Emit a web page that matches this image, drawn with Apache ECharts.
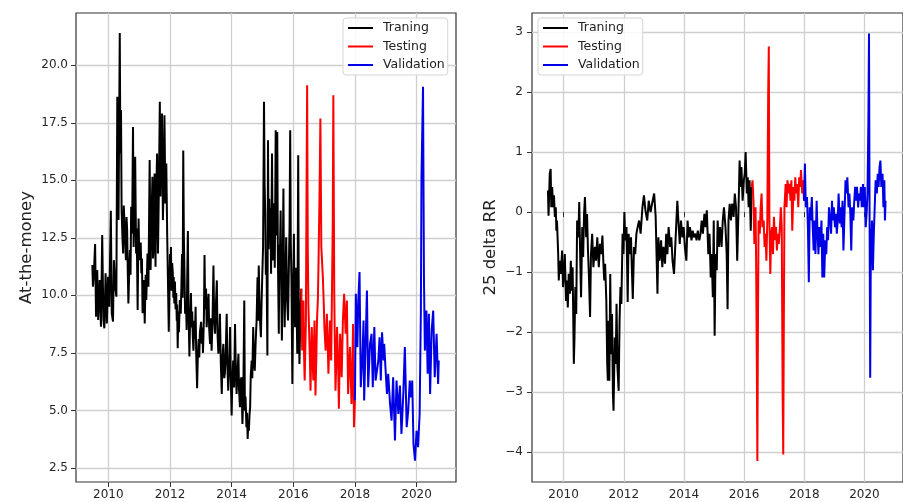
<!DOCTYPE html>
<html>
<head>
<meta charset="utf-8">
<title>ATM and 25 delta RR</title>
<script src="https://cdn.jsdelivr.net/npm/echarts@6/dist/echarts.min.js"></script>
<style>
  html, body { margin: 0; padding: 0; background: #fff; }
  #main { width: 903px; height: 502px; }
</style>
</head>
<body>
<div id="main"></div>
<script>
// tick positions
var yearTicks = [2010, 2012, 2014, 2016, 2018, 2020];
var atmTicks = [2.5, 5, 7.5, 10, 12.5, 15, 17.5, 20];
var rrTicks = [-4, -3, -2, -1, 0, 1, 2, 3];

// At-the-money, [year, value]
var atmTrain = [[2009.48,11.32],[2009.50,10.38],[2009.53,10.96],[2009.57,12.23],[2009.60,9.07],[2009.64,11.10],[2009.67,8.93],[2009.72,10.67],[2009.76,8.64],[2009.80,12.62],[2009.84,8.93],[2009.87,8.57],[2009.91,10.96],[2009.95,8.78],[2009.99,10.81],[2010.03,9.51],[2010.08,13.68],[2010.11,9.22],[2010.15,8.86],[2010.18,11.53],[2010.22,10.38],[2010.26,9.94],[2010.29,18.63],[2010.33,13.27],[2010.37,21.40],[2010.39,16.16],[2010.41,18.05],[2010.43,13.70],[2010.46,12.4],[2010.48,11.82],[2010.50,13.9],[2010.52,13.27],[2010.55,12.2],[2010.57,11.53],[2010.59,13.4],[2010.61,12.84],[2010.63,11.0],[2010.65,9.65],[2010.68,11.2],[2010.70,11.97],[2010.72,10.9],[2010.74,13.85],[2010.77,12.69],[2010.80,17.32],[2010.82,12.1],[2010.84,13.27],[2010.87,16.02],[2010.90,11.82],[2010.92,12.9],[2010.95,9.36],[2010.98,13.34],[2011.00,11.9],[2011.02,11.53],[2011.05,12.3],[2011.07,10.96],[2011.09,11.6],[2011.11,9.22],[2011.15,10.67],[2011.18,8.78],[2011.21,10.9],[2011.23,9.80],[2011.27,11.82],[2011.30,10.38],[2011.34,15.88],[2011.37,11.10],[2011.40,13.27],[2011.43,15.15],[2011.45,11.6],[2011.47,12.11],[2011.50,15.30],[2011.53,11.24],[2011.55,14.1],[2011.58,16.16],[2011.61,11.82],[2011.64,14.72],[2011.67,18.41],[2011.69,14.3],[2011.71,15.88],[2011.74,17.90],[2011.77,13.27],[2011.80,15.2],[2011.82,17.83],[2011.85,13.99],[2011.88,15.73],[2011.91,12.55],[2011.93,10.9],[2011.96,8.42],[2012.00,11.8],[2012.02,10.4],[2012.03,12.1],[2012.05,10.2],[2012.07,11.4],[2012.09,11.0],[2012.11,9.9],[2012.12,10.8],[2012.14,9.65],[2012.16,10.6],[2012.18,9.4],[2012.20,10.1],[2012.22,8.9],[2012.23,9.6],[2012.25,7.7],[2012.27,9.3],[2012.29,8.4],[2012.30,8.9],[2012.32,9.8],[2012.35,9.2],[2012.37,10.4],[2012.39,11.8],[2012.41,9.9],[2012.43,16.3],[2012.45,12.5],[2012.47,11.0],[2012.49,9.2],[2012.52,9.65],[2012.54,8.5],[2012.56,10.9],[2012.58,12.8],[2012.60,9.4],[2012.63,7.34],[2012.65,8.8],[2012.68,10.1],[2012.70,8.6],[2012.72,9.3],[2012.74,8.2],[2012.76,7.6],[2012.79,8.9],[2012.81,8.1],[2012.83,9.5],[2012.85,7.5],[2012.88,5.96],[2012.90,7.2],[2012.93,8.1],[2012.95,7.3],[2012.97,8.4],[2013.01,8.85],[2013.03,7.9],[2013.05,8.6],[2013.07,7.5],[2013.10,9.0],[2013.12,11.75],[2013.14,9.4],[2013.17,10.3],[2013.19,8.62],[2013.22,9.4],[2013.25,10.07],[2013.27,8.6],[2013.30,7.89],[2013.32,9.0],[2013.35,7.6],[2013.38,8.9],[2013.41,11.3],[2013.43,9.2],[2013.46,8.33],[2013.49,9.6],[2013.52,10.65],[2013.54,8.4],[2013.57,7.46],[2013.60,8.3],[2013.62,9.2],[2013.65,7.0],[2013.68,5.72],[2013.70,7.1],[2013.73,7.89],[2013.76,6.4],[2013.78,6.59],[2013.81,7.6],[2013.84,9.2],[2013.86,7.0],[2013.89,5.86],[2013.92,7.0],[2013.95,8.62],[2013.97,6.6],[2014.00,4.78],[2014.02,6.2],[2014.05,7.17],[2014.08,6.0],[2014.11,8.76],[2014.13,7.2],[2014.16,5.72],[2014.19,6.6],[2014.22,7.46],[2014.24,5.9],[2014.27,5.14],[2014.29,6.3],[2014.32,6.44],[2014.35,4.41],[2014.38,5.8],[2014.41,9.78],[2014.43,4.99],[2014.45,5.6],[2014.48,4.27],[2014.50,4.9],[2014.52,3.76],[2014.54,4.5],[2014.56,4.12],[2014.58,4.8],[2014.60,5.14],[2014.62,6.5],[2014.65,7.17],[2014.67,6.4],[2014.70,8.62],[2014.72,7.2],[2014.75,6.73],[2014.78,8.0],[2014.81,8.91],[2014.84,10.79],[2014.86,8.9],[2014.88,11.3],[2014.91,9.2],[2014.95,8.18],[2014.97,9.6],[2014.99,10.65],[2015.02,12.1],[2015.05,18.41],[2015.07,14.8],[2015.09,13.69],[2015.11,10.9],[2015.13,11.81],[2015.16,7.39],[2015.18,16.74],[2015.20,12.0],[2015.22,14.2],[2015.24,12.53],[2015.26,13.8],[2015.28,10.94],[2015.31,16.16],[2015.33,12.4],[2015.34,11.52],[2015.36,14.0],[2015.38,13.26],[2015.40,11.2],[2015.43,17.17],[2015.45,12.6],[2015.48,17.1],[2015.50,11.8],[2015.53,8.33],[2015.55,12.2],[2015.56,11.23],[2015.59,13.69],[2015.61,10.4],[2015.63,8.04],[2015.66,11.5],[2015.68,14.64],[2015.70,10.6],[2015.72,8.62],[2015.75,11.0],[2015.77,12.53],[2015.80,9.8],[2015.83,8.91],[2015.86,11.52],[2015.88,13.0],[2015.90,17.17],[2015.92,12.2],[2015.94,10.79],[2015.97,6.15],[2016.00,10.4],[2016.02,12.68],[2016.04,9.6],[2016.06,8.62],[2016.08,11.2],[2016.10,10.07],[2016.13,7.46],[2016.16,16.09],[2016.18,9.4],[2016.20,7.02],[2016.23,9.1],[2016.26,10.29]];
var atmTest = [[2016.26,10.29],[2016.29,7.60],[2016.31,8.9],[2016.33,9.78],[2016.35,7.4],[2016.37,6.30],[2016.41,8.91],[2016.43,14.42],[2016.45,19.13],[2016.47,12.10],[2016.49,9.6],[2016.51,8.62],[2016.54,7.2],[2016.56,5.86],[2016.58,7.4],[2016.60,8.62],[2016.62,7.5],[2016.65,6.30],[2016.67,7.8],[2016.69,8.91],[2016.72,5.65],[2016.75,7.4],[2016.77,8.91],[2016.80,9.9],[2016.82,11.52],[2016.85,14.13],[2016.88,17.68],[2016.91,12.10],[2016.94,11.3],[2016.96,10.79],[2016.99,9.6],[2017.01,8.62],[2017.05,7.60],[2017.09,9.20],[2017.12,7.8],[2017.14,6.59],[2017.17,7.9],[2017.19,8.91],[2017.23,7.17],[2017.28,12.97],[2017.30,18.70],[2017.33,10.07],[2017.35,7.8],[2017.37,5.86],[2017.40,7.3],[2017.42,8.62],[2017.46,6.73],[2017.48,5.07],[2017.50,6.8],[2017.52,8.33],[2017.55,7.4],[2017.57,6.44],[2017.61,8.91],[2017.65,10.07],[2017.70,8.33],[2017.74,9.78],[2017.76,7.6],[2017.78,5.72],[2017.81,6.9],[2017.84,7.75],[2017.89,5.28],[2017.92,7.1],[2017.94,8.76],[2017.97,4.27],[2018.00,5.43]];
var atmValid = [[2018.00,5.43],[2018.03,10.07],[2018.08,7.75],[2018.11,9.78],[2018.15,11.01],[2018.19,6.01],[2018.24,7.17],[2018.28,8.91],[2018.30,5.43],[2018.35,8.04],[2018.39,10.21],[2018.43,6.01],[2018.49,7.89],[2018.54,8.33],[2018.58,6.01],[2018.63,8.62],[2018.67,6.30],[2018.76,7.17],[2018.80,8.18],[2018.84,6.30],[2018.88,8.40],[2018.93,7.17],[2018.95,7.89],[2018.99,6.88],[2019.04,5.72],[2019.08,6.59],[2019.14,5.28],[2019.19,4.56],[2019.24,6.44],[2019.30,3.69],[2019.35,6.30],[2019.41,4.85],[2019.46,6.08],[2019.51,3.98],[2019.57,5.72],[2019.62,7.75],[2019.68,4.27],[2019.73,4.99],[2019.78,6.30],[2019.82,5.57],[2019.86,6.30],[2019.90,3.54],[2019.95,2.82],[2020.00,4.12],[2020.05,3.40],[2020.10,4.85],[2020.14,9.34],[2020.16,15.14],[2020.21,19.06],[2020.24,10.79],[2020.27,7.60],[2020.32,9.34],[2020.36,6.59],[2020.40,9.20],[2020.44,5.72],[2020.49,8.47],[2020.54,9.34],[2020.59,6.44],[2020.65,8.33],[2020.70,6.15],[2020.72,7.17]];

// 25 delta RR, [year, value]
var rrTrain = [[2009.48,0.36],[2009.50,-0.06],[2009.54,0.64],[2009.57,0.72],[2009.59,0.08],[2009.62,0.42],[2009.65,0.08],[2009.68,0.28],[2009.71,-0.08],[2009.74,0.08],[2009.76,-0.31],[2009.78,-0.14],[2009.82,-0.70],[2009.84,-1.14],[2009.87,-0.81],[2009.91,-1.03],[2009.95,-0.64],[2009.98,-1.25],[2010.01,-1.03],[2010.04,-0.70],[2010.08,-1.48],[2010.11,-1.14],[2010.14,-1.59],[2010.17,-1.03],[2010.21,-1.36],[2010.24,-0.81],[2010.27,-1.31],[2010.30,-0.92],[2010.34,-2.53],[2010.36,-2.14],[2010.39,-1.25],[2010.42,-1.70],[2010.45,-0.14],[2010.49,-0.42],[2010.52,0.17],[2010.55,-0.70],[2010.58,-1.42],[2010.62,-0.25],[2010.65,-0.75],[2010.68,-0.03],[2010.71,0.25],[2010.75,-0.42],[2010.78,-0.03],[2010.81,-0.64],[2010.84,-1.03],[2010.88,-1.75],[2010.91,-0.70],[2010.95,-0.36],[2010.99,-0.92],[2011.04,-0.58],[2011.08,-0.81],[2011.12,-0.42],[2011.17,-0.92],[2011.21,-0.53],[2011.25,-0.70],[2011.29,-0.39],[2011.32,-0.81],[2011.35,-1.14],[2011.38,-0.86],[2011.42,-1.48],[2011.45,-2.53],[2011.47,-2.81],[2011.49,-1.81],[2011.52,-2.81],[2011.55,-1.03],[2011.58,-2.37],[2011.61,-1.70],[2011.64,-3.04],[2011.66,-3.31],[2011.70,-2.09],[2011.73,-2.53],[2011.76,-1.53],[2011.79,-2.59],[2011.83,-2.98],[2011.86,-1.81],[2011.89,-1.25],[2011.92,-1.53],[2011.96,-0.36],[2011.99,-0.70],[2012.02,0.00],[2012.05,-0.47],[2012.09,-0.25],[2012.13,-1.50],[2012.16,-0.36],[2012.21,-0.70],[2012.24,-0.42],[2012.27,-0.97],[2012.30,-1.45],[2012.34,-0.58],[2012.38,-0.70],[2012.42,-0.36],[2012.46,-0.25],[2012.51,-0.14],[2012.56,-0.36],[2012.62,0.08],[2012.67,0.28],[2012.72,0.03],[2012.78,-0.14],[2012.83,0.19],[2012.89,0.00],[2012.94,0.14],[2013.01,0.31],[2013.06,-0.08],[2013.12,-1.36],[2013.15,-0.42],[2013.19,-0.81],[2013.24,-0.47],[2013.28,-0.92],[2013.32,-0.58],[2013.37,-0.86],[2013.41,-0.36],[2013.45,-0.70],[2013.49,-0.25],[2013.54,-0.58],[2013.58,-0.42],[2013.62,-0.81],[2013.67,-1.03],[2013.71,-0.58],[2013.75,-0.14],[2013.78,0.19],[2013.82,-0.19],[2013.86,-0.53],[2013.90,-0.14],[2013.95,-0.42],[2013.99,-0.25],[2014.03,-0.58],[2014.08,-0.81],[2014.12,-0.14],[2014.16,-0.42],[2014.20,-0.25],[2014.25,-0.47],[2014.29,-0.31],[2014.33,-0.42],[2014.38,-0.36],[2014.42,-0.47],[2014.46,-0.31],[2014.51,-0.47],[2014.55,-0.36],[2014.59,-0.14],[2014.63,-0.36],[2014.68,-0.03],[2014.72,-0.25],[2014.76,0.03],[2014.81,-0.70],[2014.85,-0.36],[2014.89,-1.09],[2014.92,-0.70],[2014.96,-1.42],[2014.99,-0.14],[2015.02,-2.06],[2015.05,-0.70],[2015.09,-0.97],[2015.12,-0.14],[2015.16,-0.58],[2015.20,-0.25],[2015.25,-0.58],[2015.29,-0.14],[2015.33,0.08],[2015.38,-0.25],[2015.42,-0.70],[2015.45,-1.62],[2015.48,-0.14],[2015.52,0.14],[2015.56,-0.14],[2015.60,0.14],[2015.65,-0.08],[2015.69,0.31],[2015.73,0.08],[2015.77,-0.81],[2015.82,0.19],[2015.85,0.86],[2015.88,0.42],[2015.91,0.75],[2015.95,0.19],[2015.99,0.53],[2016.02,0.64],[2016.05,1.00],[2016.09,0.31],[2016.12,0.58],[2016.15,0.08],[2016.18,0.53],[2016.22,-0.31],[2016.25,0.42]];
var rrTest = [[2016.25,0.42],[2016.28,0.53],[2016.31,0.19],[2016.34,-0.53],[2016.38,0.08],[2016.40,-0.92],[2016.42,-2.37],[2016.44,-4.15],[2016.46,-1.81],[2016.48,-0.14],[2016.52,-0.36],[2016.55,0.08],[2016.58,0.31],[2016.61,-0.25],[2016.65,-0.14],[2016.68,-0.58],[2016.71,-0.36],[2016.74,-0.81],[2016.77,-0.14],[2016.80,1.98],[2016.82,2.76],[2016.84,-0.14],[2016.87,-1.03],[2016.90,-0.36],[2016.93,-0.25],[2016.96,-0.70],[2016.99,-0.08],[2017.03,-0.47],[2017.06,-0.25],[2017.09,-0.64],[2017.12,-0.36],[2017.15,-0.53],[2017.19,-0.25],[2017.22,0.08],[2017.25,-0.25],[2017.28,-3.04],[2017.30,-4.04],[2017.32,-1.81],[2017.34,0.08],[2017.38,0.47],[2017.41,0.08],[2017.44,0.53],[2017.48,0.31],[2017.51,0.47],[2017.54,0.19],[2017.57,0.53],[2017.60,-0.31],[2017.64,0.42],[2017.67,0.19],[2017.70,0.58],[2017.73,0.31],[2017.76,0.47],[2017.80,0.08],[2017.83,0.58],[2017.86,0.42],[2017.89,0.70],[2017.93,0.31],[2017.96,0.53],[2017.99,0.19]];
var rrValid = [[2017.99,0.19],[2018.02,0.81],[2018.05,0.08],[2018.09,0.25],[2018.12,-0.25],[2018.15,-1.17],[2018.18,0.08],[2018.21,-0.14],[2018.25,0.25],[2018.28,-0.25],[2018.31,-0.64],[2018.34,-0.14],[2018.37,-0.70],[2018.41,0.19],[2018.44,-0.36],[2018.47,-0.70],[2018.50,-0.25],[2018.53,-0.58],[2018.57,-0.14],[2018.60,-1.09],[2018.63,-0.36],[2018.66,-1.09],[2018.70,-0.47],[2018.73,-0.70],[2018.76,-0.25],[2018.79,-0.47],[2018.82,0.08],[2018.86,-0.14],[2018.89,-0.36],[2018.92,0.19],[2018.95,-0.14],[2018.98,0.08],[2019.02,-0.25],[2019.05,-0.03],[2019.08,-0.36],[2019.11,-0.14],[2019.14,0.31],[2019.18,-0.19],[2019.21,0.08],[2019.24,-0.25],[2019.27,0.19],[2019.30,-0.64],[2019.34,0.03],[2019.37,0.53],[2019.40,0.31],[2019.43,0.58],[2019.47,0.08],[2019.50,0.31],[2019.53,-0.03],[2019.56,-0.64],[2019.59,0.08],[2019.63,-0.14],[2019.66,0.19],[2019.69,0.42],[2019.72,0.19],[2019.75,0.42],[2019.79,0.08],[2019.82,0.31],[2019.85,0.19],[2019.88,0.42],[2019.91,0.08],[2019.95,0.47],[2019.98,0.08],[2020.01,0.42],[2020.04,-0.25],[2020.07,-0.03],[2020.10,0.31],[2020.13,1.53],[2020.15,2.98],[2020.17,-0.14],[2020.19,-2.76],[2020.21,-0.70],[2020.25,-0.14],[2020.28,-0.97],[2020.31,-0.36],[2020.34,0.08],[2020.37,0.53],[2020.41,0.31],[2020.44,0.64],[2020.47,0.42],[2020.50,0.75],[2020.53,0.86],[2020.56,0.42],[2020.60,0.64],[2020.63,0.08],[2020.66,0.53],[2020.68,-0.14],[2020.70,0.19]];

var seriesNames = ['Traning', 'Testing', 'Validation'];
var colors = ['#000000', '#ff0000', '#0000e6'];
var font = 'DejaVu Sans';

function xAxisFor(idx) {
	return {
		type: 'value',
		gridIndex: idx,
		min: 2008.95,
		max: 2021.28,
		axisLine: { show: false },
		axisTick: { show: true, customValues: yearTicks, length: 5, lineStyle: { color: '#333' } },
		axisLabel: {
			customValues: yearTicks, margin: 7, fontSize: 12, fontFamily: font, color: '#262626',
			formatter: function (v) { return String(Math.round(v)); }
		},
		splitLine: { show: true, lineStyle: { color: '#cfcfcf', width: 1.3 } }
	};
}

function lineSeries(name, data, color, idx) {
	return {
		name: name,
		type: 'line',
		xAxisIndex: idx,
		yAxisIndex: idx,
		data: data,
		symbol: 'none',
		color: color,
		lineStyle: { color: color, width: 2 },
		animation: false
	};
}

function legendAt(left) {
	return {
		orient: 'vertical',
		left: left,
		top: 18,
		data: seriesNames,
		icon: 'rect',
		itemWidth: 25,
		itemHeight: 2,
		itemGap: 4.5,
		padding: [3, 3, 3, 5],
		backgroundColor: 'rgba(255,255,255,0.85)',
		borderColor: '#d5d5d5',
		borderWidth: 1,
		borderRadius: 3,
		textStyle: { fontFamily: font, fontSize: 12.5, lineHeight: 14, height: 14, color: '#222', padding: [0, 0, 0, 5] }
	};
}

var chart = echarts.init(document.getElementById('main'), null, { renderer: 'canvas' });
chart.setOption({
	backgroundColor: '#fff',
	animation: false,
	grid: [
		{ left: 76, top: 13, width: 380, height: 469, show: true, borderColor: '#333', borderWidth: 1.2 },
		{ left: 532, top: 13, width: 380, height: 469, show: true, borderColor: '#333', borderWidth: 1.2 }
	],
	legend: [legendAt(343), legendAt(538)],
	xAxis: [xAxisFor(0), xAxisFor(1)],
	yAxis: [{
		type: 'value',
		gridIndex: 0,
		min: 1.89,
		max: 22.27,
		name: 'At-the-money',
		nameLocation: 'middle',
		nameGap: 41,
		nameTextStyle: { fontFamily: font, fontSize: 16.5, color: '#222' },
		axisLine: { show: false },
		axisTick: { show: true, customValues: atmTicks, length: 5, lineStyle: { color: '#333' } },
		axisLabel: {
			customValues: atmTicks, margin: 8, fontSize: 12, fontFamily: font, color: '#262626',
			formatter: function (v) { return v.toFixed(1); }
		},
		splitLine: { show: true, lineStyle: { color: '#cfcfcf', width: 1.3 } }
	}, {
		type: 'value',
		gridIndex: 1,
		min: -4.5,
		max: 3.32,
		name: '25 delta RR',
		nameLocation: 'middle',
		nameGap: 33,
		nameTextStyle: { fontFamily: font, fontSize: 16.5, color: '#222' },
		axisLine: { show: false },
		axisTick: { show: true, customValues: rrTicks, length: 5, lineStyle: { color: '#333' } },
		axisLabel: {
			customValues: rrTicks, margin: 9, fontSize: 12, fontFamily: font, color: '#262626',
			formatter: function (v) { return String(v).replace('-', '\u2212'); }
		},
		splitLine: { show: true, lineStyle: { color: '#cfcfcf', width: 1.3 } }
	}],
	series: [
		lineSeries('Traning', atmTrain, colors[0], 0),
		lineSeries('Testing', atmTest, colors[1], 0),
		lineSeries('Validation', atmValid, colors[2], 0),
		lineSeries('Traning', rrTrain, colors[0], 1),
		lineSeries('Testing', rrTest, colors[1], 1),
		lineSeries('Validation', rrValid, colors[2], 1)
	]
});
</script>
</body>
</html>
